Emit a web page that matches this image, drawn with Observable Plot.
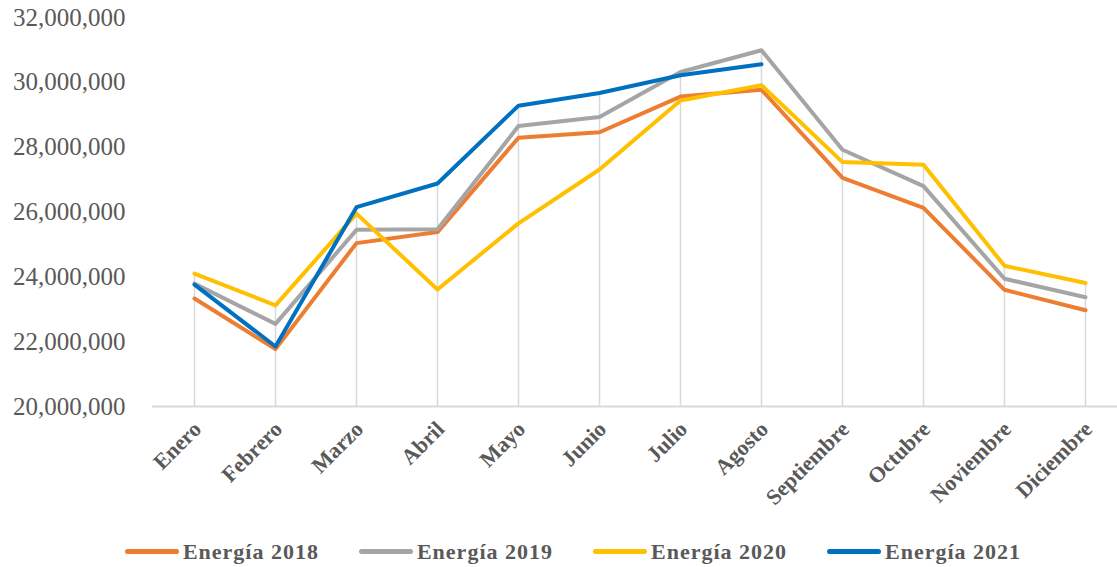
<!DOCTYPE html>
<html>
<head>
<meta charset="utf-8">
<script src="https://cdn.jsdelivr.net/npm/d3@7"></script>
<script src="https://cdn.jsdelivr.net/npm/@observablehq/plot@0.6"></script>
<style>
  html, body { margin: 0; padding: 0; background: #fff; }
  #chart svg { display: block; }
  #legend { display: flex; justify-content: center; align-items: center; height: 37px; padding-left: 29px; padding-top: 3px;
    font-family: "Liberation Serif", "Times New Roman", serif; font-weight: bold; font-size: 22px; color: #595959; letter-spacing: 1px; }
  .item { display: flex; align-items: center; margin: 0 20px; }
  .sw { width: 54px; height: 4.5px; border-radius: 3px; margin-right: 4px; }
</style>
</head>
<body>
<div id="chart"></div>
<div id="legend"></div>
<script>
const months = ["Enero","Febrero","Marzo","Abril","Mayo","Junio","Julio","Agosto","Septiembre","Octubre","Noviembre","Diciembre"];
const seriesNames = ["Energía 2018","Energía 2019","Energía 2020","Energía 2021"];
const colors = ["#ED7D31","#A5A5A5","#FFC000","#0070C0"];
const e2018 = [23330000,21770000,25040000,25380000,28290000,28460000,29560000,29770000,27050000,26130000,23600000,22970000];
const e2019 = [23790000,22550000,25450000,25470000,28650000,28930000,30320000,30990000,27920000,26800000,23940000,23370000];
const e2020 = [24100000,23120000,25950000,23610000,25650000,27310000,29440000,29910000,27540000,27460000,24340000,23810000];
const e2021 = [23760000,21850000,26150000,26880000,29280000,29670000,30220000,30560000,null,null,null,null];
const yTicks = [20000000,22000000,24000000,26000000,28000000,30000000,32000000];

const allSeries = [e2018, e2019, e2020, e2021];
const rows = [];
allSeries.forEach((vals, i) => vals.forEach((v, j) => { if (v != null) rows.push({series: seriesNames[i], month: months[j], value: v}); }));
const drops = months.map((m, j) => ({month: m, top: d3.max(allSeries, s => s[j])}));

const H = 530;
const chart = Plot.plot({
  width: 1117,
  height: H,
  marginLeft: 152,
  marginRight: 0,
  marginTop: 17,
  marginBottom: H - 406,
  style: {fontFamily: "'Liberation Serif', 'Times New Roman', serif", color: "#595959", background: "#fff"},
  x: {type: "point", domain: months, padding: 0, insetLeft: 41, insetRight: 31},
  y: {domain: [20000000, 32000000]},
  color: {domain: seriesNames, range: colors},
  marks: [
    Plot.ruleX(drops, {x: "month", y1: 20000000, y2: "top", stroke: "#d9d9d9", strokeWidth: 1.5}),
    Plot.ruleY([20000000], {stroke: "#d9d9d9", strokeWidth: 2}),
    Plot.axisY({ticks: yTicks, tickSize: 0, tickPadding: 27, tickFormat: d3.format(","), fontSize: 25, fill: "#595959", label: null}),
    Plot.axisX({tickSize: 0, tickRotate: -45, tickPadding: 19, fontSize: 22, fontWeight: "bold", fill: "#595959", label: null, dx: 3}),
    Plot.line(rows, {x: "month", y: "value", z: "series", stroke: "series", strokeWidth: 4, strokeLinejoin: "round", strokeLinecap: "round"})
  ]
});
document.getElementById("chart").appendChild(chart);

const legend = document.getElementById("legend");
seriesNames.forEach((n, i) => {
  const it = document.createElement("div");
  it.className = "item";
  const sw = document.createElement("div");
  sw.className = "sw";
  sw.style.background = colors[i];
  const t = document.createElement("span");
  t.textContent = n;
  it.appendChild(sw); it.appendChild(t);
  legend.appendChild(it);
});
</script>
</body>
</html>
